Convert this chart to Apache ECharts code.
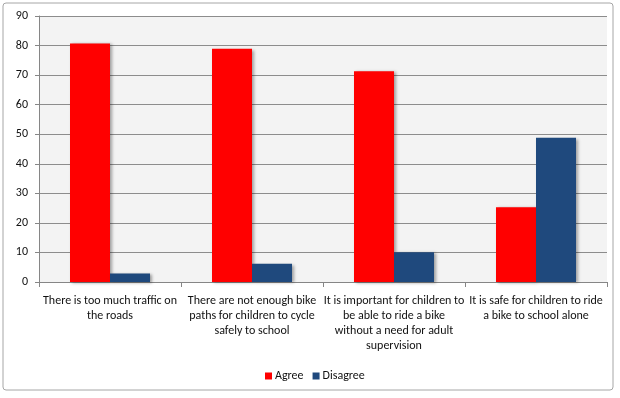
<!DOCTYPE html>
<html>
<head>
<meta charset="utf-8">
<script src="https://cdn.jsdelivr.net/npm/echarts@6/dist/echarts.min.js"></script>
<style>
    html, body { margin: 0; padding: 0; background: #fff; }
    #chart { width: 620px; height: 398px; }
</style>
</head>
<body>
<div id="chart"></div>
<script>
    // 数据
    var categories = [
        'There is too much traffic on\nthe roads',
        'There are not enough bike\npaths for children to cycle\nsafely to school',
        'It is important for children to\nbe able to ride a bike\nwithout a need for adult\nsupervision',
        'It is safe for children to ride\na bike to school alone'
    ];
    var agree = [80.7, 78.9, 71.3, 25.3];
    var disagree = [2.9, 6.2, 10.1, 48.8];
    var seriesNames = ['Agree', 'Disagree'];

    var myChart = echarts.init(document.getElementById('chart'));
    var font = 'Carlito, Lato, sans-serif';
    var barShadow = {
        shadowColor: 'rgba(0,0,0,0.35)',
        shadowBlur: 3,
        shadowOffsetX: 2,
        shadowOffsetY: 1
    };

    myChart.setOption({
        animation: false,
        textStyle: { fontFamily: font },
        graphic: [{
            type: 'rect',
            shape: { x: 3, y: 3, width: 610, height: 387, r: 3 },
            style: { fill: 'none', stroke: '#a6a6a6', lineWidth: 1 },
            z: 0
        }],
        grid: {
            left: 39,
            right: 13,
            top: 16,
            bottom: 116,
            show: true,
            backgroundColor: '#f3f3f3',
            borderWidth: 0
        },
        legend: {
            data: seriesNames,
            left: 260,
            top: 365,
            itemWidth: 7,
            itemHeight: 7,
            itemGap: 9,
            icon: 'rect',
            textStyle: { fontSize: 12, color: '#111', padding: [0, 0, 0, -2] }
        },
        xAxis: {
            type: 'category',
            data: categories,
            axisLine: { lineStyle: { color: '#868686' } },
            axisTick: { show: true, length: 5, alignWithLabel: false, lineStyle: { color: '#868686' } },
            axisLabel: {
                interval: 0,
                margin: 11,
                fontSize: 12,
                lineHeight: 15,
                color: '#111',
                hideOverlap: false
            }
        },
        yAxis: {
            type: 'value',
            min: 0,
            max: 90,
            interval: 10,
            axisLine: { show: true, lineStyle: { color: '#868686' } },
            axisTick: { show: true, length: 4, lineStyle: { color: '#868686' } },
            splitLine: { lineStyle: { color: '#8c8c8c' } },
            axisLabel: { fontSize: 12, color: '#111', margin: 11 }
        },
        series: [
            {
                name: 'Agree',
                type: 'bar',
                data: agree,
                barWidth: 40,
                barGap: '0%',
                itemStyle: Object.assign({ color: '#ff0000' }, barShadow)
            },
            {
                name: 'Disagree',
                type: 'bar',
                data: disagree,
                barWidth: 40,
                itemStyle: Object.assign({ color: '#1f497d' }, barShadow)
            }
        ]
    });
</script>
</body>
</html>
